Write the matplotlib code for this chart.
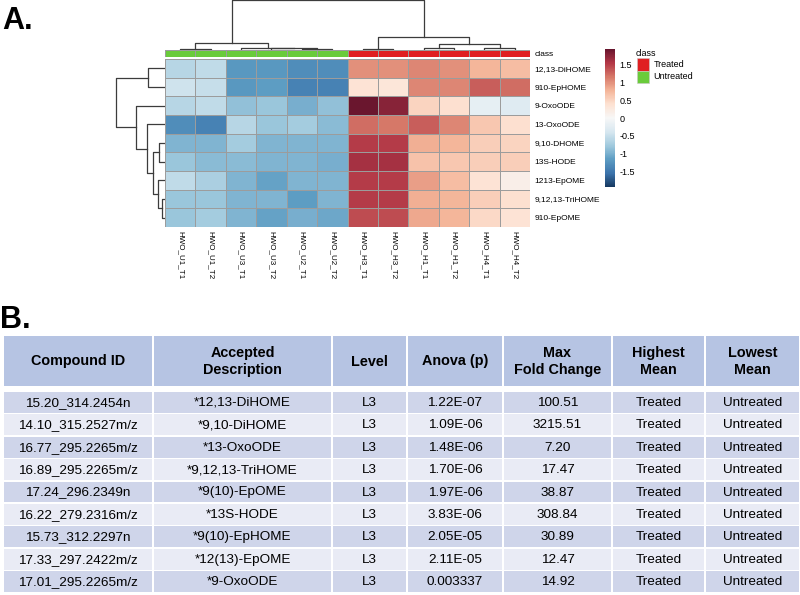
import matplotlib.pyplot as plt
import numpy as np
from matplotlib.patches import Rectangle
from matplotlib.colors import ListedColormap, rgb_to_hsv, hsv_to_rgb

plt.rcParams['font.family'] = ['Liberation Sans', 'DejaVu Sans']

# ---- panel A data ----
samples = ["HWO_U1_T1", "HWO_U1_T2", "HWO_U3_T1", "HWO_U3_T2", "HWO_U2_T1", "HWO_U2_T2",
           "HWO_H3_T1", "HWO_H3_T2", "HWO_H1_T1", "HWO_H1_T2", "HWO_H4_T1", "HWO_H4_T2"]
sample_class = ["Untreated", "Untreated", "Untreated", "Untreated", "Untreated", "Untreated",
                "Treated", "Treated", "Treated", "Treated", "Treated", "Treated"]
metabolites = ["12,13-DiHOME", "910-EpHOME", "9-OxoODE", "13-OxoODE", "9,10-DHOME",
               "13S-HODE", "1213-EpOME", "9,12,13-TriHOME", "910-EpOME"]
zscores = np.array([
    [-0.60, -0.55, -1.20, -1.20, -1.30, -1.30, 1.00, 1.00, 1.05, 1.00, 0.75, 0.70],
    [-0.45, -0.50, -1.20, -1.15, -1.40, -1.40, 0.35, 0.30, 1.05, 1.05, 1.30, 1.20],
    [-0.60, -0.55, -0.85, -0.80, -1.00, -0.85, 1.90, 1.75, 0.50, 0.40, -0.20, -0.30],
    [-1.30, -1.40, -0.60, -0.80, -0.75, -0.90, 1.20, 1.15, 1.30, 1.05, 0.60, 0.40],
    [-0.95, -0.95, -0.75, -0.95, -0.95, -0.95, 1.50, 1.50, 0.80, 0.75, 0.55, 0.50],
    [-0.80, -0.90, -0.90, -0.95, -0.95, -1.00, 1.60, 1.60, 0.65, 0.60, 0.55, 0.55],
    [-0.55, -0.70, -0.95, -1.10, -0.95, -0.95, 1.50, 1.50, 0.90, 0.70, 0.35, 0.15],
    [-0.80, -0.80, -0.95, -0.95, -1.15, -0.95, 1.50, 1.50, 0.80, 0.75, 0.55, 0.40],
    [-0.80, -0.75, -0.95, -1.10, -1.00, -1.05, 1.40, 1.40, 0.85, 0.75, 0.45, 0.35],
])
# merges (left, right, height); new clusters numbered from n upwards
col_links = [(0, 1, 1.3), (4, 5, 1.5), (3, 13, 2.0), (2, 14, 2.3), (12, 15, 7.0),
             (6, 7, 1.3), (8, 9, 1.8), (10, 11, 1.8), (18, 19, 6.0), (17, 20, 13.0),
             (16, 21, 50.0)]
row_links = [(0, 1, 17.3), (7, 8, 3.0), (6, 10, 6.7), (4, 5, 5.7), (12, 11, 11.7),
             (3, 13, 18.3), (2, 14, 29.0), (9, 15, 49.0)]

# ---- panel B data ----
headers = ["Compound ID", "Accepted\nDescription", "Level", "Anova (p)",
           "Max\nFold Change", "Highest\nMean", "Lowest\nMean"]
compound_ids = ["15.20_314.2454n", "14.10_315.2527m/z", "16.77_295.2265m/z",
                "16.89_295.2265m/z", "17.24_296.2349n", "16.22_279.2316m/z",
                "15.73_312.2297n", "17.33_297.2422m/z", "17.01_295.2265m/z"]
descriptions = ["*12,13-DiHOME", "*9,10-DiHOME", "*13-OxoODE", "*9,12,13-TriHOME",
                "*9(10)-EpOME", "*13S-HODE", "*9(10)-EpHOME", "*12(13)-EpOME", "*9-OxoODE"]
levels = ["L3"] * 9
anova_p = ["1.22E-07", "1.09E-06", "1.48E-06", "1.70E-06", "1.97E-06", "3.83E-06",
           "2.05E-05", "2.11E-05", "0.003337"]
max_fold = ["100.51", "3215.51", "7.20", "17.47", "38.87", "308.84", "30.89", "12.47", "14.92"]
highest_mean = ["Treated"] * 9
lowest_mean = ["Untreated"] * 9

W, H = 800, 595
fig = plt.figure(figsize=(8, 5.95), dpi=100)


def box(x0, y0, x1, y1):
    return fig.add_axes([x0 / W, 1 - y1 / H, (x1 - x0) / W, (y1 - y0) / H])


def dendro(links, n):
    pos = {i: i + 0.5 for i in range(n)}
    hgt = {i: 0.0 for i in range(n)}
    segs = []
    for k, (a, b, h) in enumerate(links):
        segs.append(([pos[a], pos[a], pos[b], pos[b]], [hgt[a], h, h, hgt[b]]))
        pos[n + k] = (pos[a] + pos[b]) / 2
        hgt[n + k] = h
    return segs


# slightly muted red-blue scale
rgb = plt.get_cmap('RdBu_r')(np.linspace(0, 1, 256))[:, :3]
hsv = rgb_to_hsv(rgb)
hsv[:, 1] *= 0.8
cmap = ListedColormap(hsv_to_rgb(hsv))

nr, nc = zscores.shape
grid = '#9c9c9c'
dcol = '#3c3c3c'

# heatmap
ax = box(165, 59, 530, 227)
mesh = ax.pcolormesh(zscores, cmap=cmap, vmin=-1.92, vmax=1.92,
                     edgecolors=grid, linewidth=0.6)
ax.set_xlim(0, nc)
ax.set_ylim(nr, 0)
ax.set_xticks(np.arange(nc) + 0.5)
ax.set_xticklabels(samples, rotation=270, fontsize=5.8)
ax.set_yticks(np.arange(nr) + 0.5)
ax.set_yticklabels(metabolites, fontsize=6)
ax.yaxis.tick_right()
ax.tick_params(length=0, pad=3)
for s in ax.spines.values():
    s.set_visible(False)

# class bar
class_colors = {"Treated": "#e01f22", "Untreated": "#6acb3b"}
names = list(class_colors)
cax_bar = box(165, 50, 530, 56.5)
cax_bar.pcolormesh([[names.index(c) for c in sample_class]],
                   cmap=ListedColormap([class_colors[k] for k in names]),
                   vmin=-0.5, vmax=1.5, edgecolors=grid, linewidth=0.5)
cax_bar.set_xlim(0, nc)
cax_bar.set_xticks([])
cax_bar.set_yticks([0.5])
cax_bar.set_yticklabels(["class"], fontsize=6)
cax_bar.yaxis.tick_right()
cax_bar.tick_params(length=0, pad=3)
for s in cax_bar.spines.values():
    s.set_visible(False)

# column dendrogram
axd = box(165, 0, 530, 50)
for xs, ys in dendro(col_links, nc):
    axd.plot(xs, ys, color=dcol, lw=0.9)
axd.set_xlim(0, nc)
axd.set_ylim(0, 50)
axd.axis('off')

# row dendrogram
axr = box(110, 59, 165, 227)
for ys, xs in dendro(row_links, nr):
    axr.plot(xs, ys, color=dcol, lw=0.9)
axr.set_xlim(55, 0)
axr.set_ylim(nr, 0)
axr.axis('off')

# colour scale
cb_ax = box(605, 49, 615, 187)
cb = fig.colorbar(mesh, cax=cb_ax, ticks=[1.5, 1, 0.5, 0, -0.5, -1, -1.5])
cb.ax.set_yticklabels(["1.5", "1", "0.5", "0", "-0.5", "-1", "-1.5"])
cb.ax.tick_params(length=0, labelsize=6.5, pad=3)
cb.outline.set_visible(False)

# ---- overlay: class legend, panel labels and table ----
tab = fig.add_axes([0, 0, 1, 1], zorder=-1)
tab.set_xlim(0, W)
tab.set_ylim(H, 0)
tab.axis('off')

tab.text(636, 53, "class", fontsize=6.5, va='center')
for i, k in enumerate(names):
    y0 = 58 + i * 12.5
    tab.add_patch(Rectangle((637, y0), 12, 12.5, facecolor=class_colors[k],
                            edgecolor='#c8c8c8', lw=0.4))
    tab.text(653.5, y0 + 6.3, k, fontsize=6.5, va='center')

tab.text(2, 29, "A.", fontsize=22, fontweight='bold')
tab.text(0, 328, "B.", fontsize=22, fontweight='bold')

col_edges = [3, 153, 332, 407, 503, 612, 705, 800]
head_top, head_bot = 336, 386
row_top, row_pitch = 392, 22.4
columns = [compound_ids, descriptions, levels, anova_p, max_fold, highest_mean, lowest_mean]
for j, head in enumerate(headers):
    x0, x1 = col_edges[j] + 1, col_edges[j + 1] - 1
    tab.add_patch(Rectangle((x0, head_top), x1 - x0, head_bot - head_top,
                            facecolor='#b6c4e3', edgecolor='none'))
    tab.text((x0 + x1) / 2, (head_top + head_bot) / 2 + 0.5, head, ha='center', va='center',
             fontsize=10.4, fontweight='bold', linespacing=1.22)
    for i, val in enumerate(columns[j]):
        y0 = row_top + i * row_pitch
        fc = '#cfd5ea' if i % 2 == 0 else '#e9ebf5'
        tab.add_patch(Rectangle((x0, y0), x1 - x0, row_pitch - 1.6,
                                facecolor=fc, edgecolor='none'))
        tab.text((x0 + x1) / 2, y0 + (row_pitch - 1.6) / 2 + 0.5, val,
                 ha='center', va='center', fontsize=9.7)

fig.savefig("out.png", dpi=100)
